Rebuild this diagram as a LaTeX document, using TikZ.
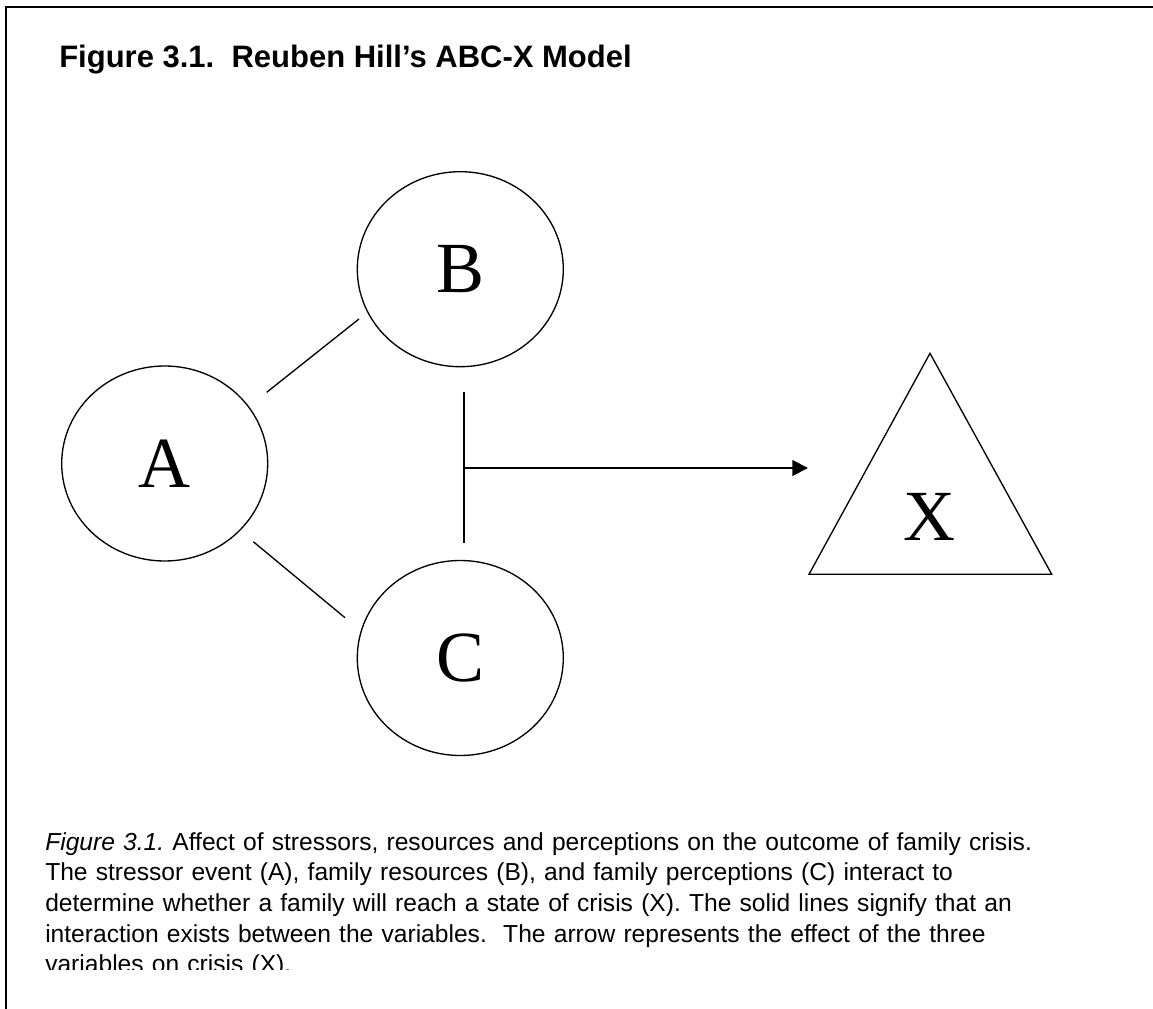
\documentclass[tikz,border=0pt]{standalone}
\usepackage{fontspec}
\setmainfont{Liberation Serif}
\newfontfamily\arialfont{Liberation Sans}
\usetikzlibrary{shapes.geometric,arrows.meta}
\frenchspacing
\begin{document}
\begin{tikzpicture}[x=0.75pt,y=-0.75pt,
  var/.style={draw,ellipse,line width=1pt,minimum width=154.5pt,minimum height=146.25pt,inner sep=0pt,font=\fontsize{54}{54}\selectfont},
  letter/.style={inner sep=0pt,anchor=base,font=\fontsize{54}{54}\selectfont},
  link/.style={line width=1pt},
  effect/.style={line width=1.5pt,-{Triangle[length=11.8pt,width=11.8pt]}},
  frame/.style={line width=1.5pt},
  title/.style={anchor=base west,inner sep=0pt,font=\arialfont\bfseries\fontsize{23.25}{28}\selectfont},
  caption/.style={anchor=base west,inner sep=0pt,text width=810pt,align=left,font=\arialfont\fontsize{18.45}{23}\selectfont}]
\useasboundingbox (0,0) rectangle (1153,1009);
% frame
\coordinate (f1) at (6,1009);
\coordinate (f2) at (6,7);
\coordinate (f3) at (1153,7);
\draw[frame] (f1) -- (f2) -- (f3);
% title
\node[title] (ttl) at (59,67.7) {Figure 3.1.\ \ Reuben Hill’s ABC-X Model};
% variables
\node[var] (A) at (164.7,463.5) {A};
\node[var] (B) at (460.3,269.2) {B};
\node[var] (C) at (460.3,658) {C};
% interaction lines
\coordinate (ab1) at (266.7,392.3);
\coordinate (ab2) at (359,319);
\coordinate (ac1) at (253.3,541.7);
\coordinate (ac2) at (345,617.7);
\draw[link] (ab1) -- (ab2);
\draw[link] (ac1) -- (ac2);
\coordinate (bc1) at (464,392);
\coordinate (bc2) at (464,543);
\draw[link,line width=1.2pt] (bc1) -- (bc2);
% effect arrow
\coordinate (j) at (464,468);
\coordinate (tip) at (808,468);
\draw[effect] (j) -- (tip);
% crisis triangle
\coordinate (t1) at (930,353.3);
\coordinate (t2) at (809,574.3);
\coordinate (t3) at (1051.7,574.3);
\draw[link,line join=miter] (t1) -- (t2) -- (t3) -- cycle;
\node[letter] (X) at (929.3,540) {X};
% caption
\begin{scope}
\clip (20,820) rectangle (1153,969);
\node[caption] (cap) at (45,850) {{\itshape Figure 3.1.} Affect of stressors, resources and perceptions on the outcome of family crisis.\\
The stressor event (A), family resources (B), and family perceptions (C) interact to\\
determine whether a family will reach a state of crisis (X). The solid lines signify that an\\
interaction exists between the variables.\ \ The arrow represents the effect of the three\\
variables on crisis (X).};
\end{scope}
\end{tikzpicture}
\end{document}
